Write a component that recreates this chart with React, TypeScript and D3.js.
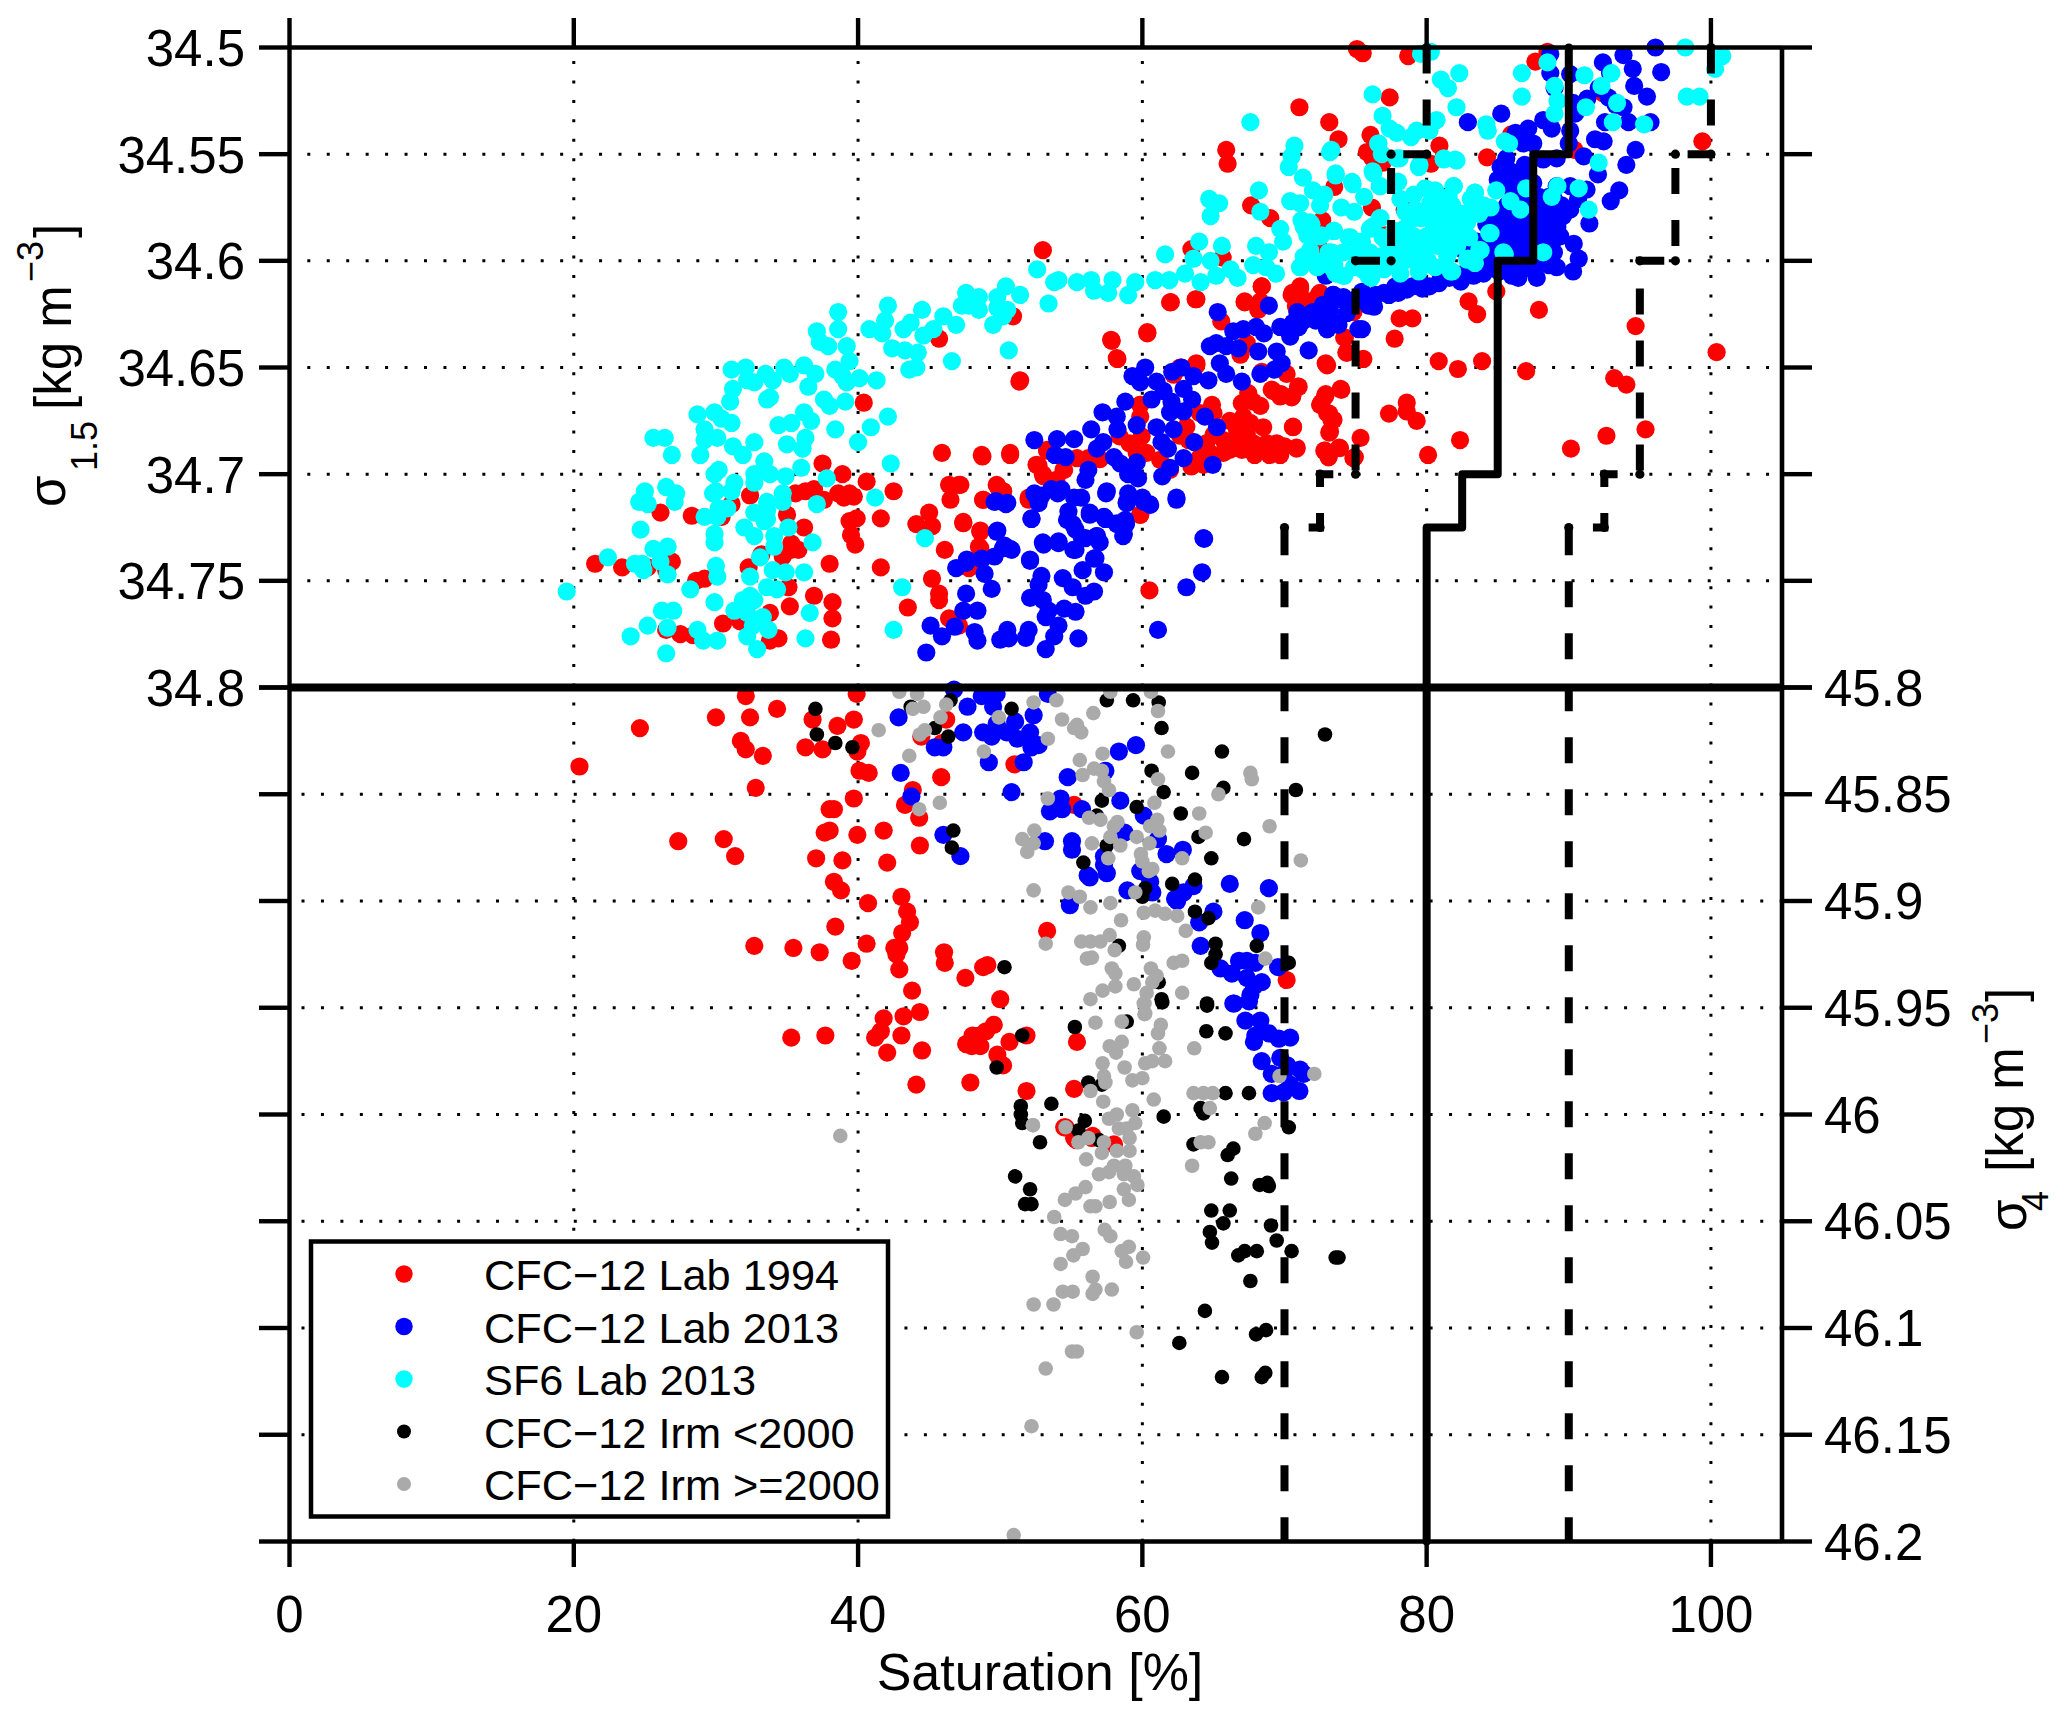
import React from "react";
import * as d3 from "d3";

const cfc1994Upper: number[][] = [[21.5,34.742],[23.4,34.7437],[25.2,34.7437],[26.9,34.741],[26.5,34.745],[26.1,34.718],[28.3,34.7195],[30.4,34.72],[31.1,34.714],[28.6,34.75],[29.2,34.749],[30.5,34.77],[26.5,34.773],[27.5,34.775],[28.4,34.7755],[31.7,34.769],[33.8,34.765],[33.8,34.778],[34.4,34.777],[35.2,34.762],[36.9,34.757],[38.2,34.76],[38.2,34.7676],[38.1,34.7776],[38,34.742],[41.6,34.7437],[32.3,34.7437],[33.2,34.7376],[35.1,34.753],[35.3,34.7325],[34.7,34.7386],[35.8,34.7355],[35.3,34.7355],[36.2,34.725],[35,34.719],[32.4,34.71],[35.6,34.709],[36.3,34.708],[36.9,34.707],[37.6,34.712],[38.6,34.709],[39,34.711],[39.4,34.709],[39.7,34.7105],[37.5,34.695],[38.9,34.7],[40.6,34.7035],[42.5,34.708],[39.4,34.722],[39.9,34.7207],[39.5,34.7285],[39.8,34.733],[41.6,34.7207],[40.4,34.6665],[53,34.595],[50.9,34.626],[45.7,34.6365],[51.4,34.656],[43.5,34.7625],[45.2,34.749],[45.7,34.756],[45.7,34.759],[46.4,34.7676],[47.1,34.771],[47.8,34.744],[45.9,34.69],[48.7,34.691],[50.7,34.69],[46.4,34.705],[47.1,34.705],[46.5,34.712],[49.8,34.7056],[50.2,34.708],[48.8,34.712],[52,34.711],[45,34.718],[44.1,34.7234],[45.2,34.7244],[47.4,34.7224],[48.6,34.7264],[48.5,34.734],[46.1,34.7355],[53.3,34.689],[52.7,34.696],[53,34.7],[54.5,34.698],[61.95,34.6195],[63.8,34.618],[67.2,34.6195],[68.4,34.612],[68.15,34.623],[71.1,34.613],[70.5,34.616],[70.85,34.622],[72.4,34.616],[71.8,34.619],[65.55,34.6284],[60.35,34.634],[57.85,34.6375],[58.25,34.646],[51.35,34.6566],[62.65,34.65],[63.8,34.649],[62.2,34.6534],[66.9,34.644],[67.35,34.6386],[73,34.649],[74.25,34.636],[74.4,34.643],[70.15,34.653],[68.4,34.652],[71,34.659],[69.2,34.661],[69.7,34.6636],[70.5,34.664],[74,34.6605],[72.85,34.6636],[72.5,34.6675],[73,34.6714],[73.45,34.6745],[73.15,34.6805],[70.6,34.678],[72.85,34.689],[73.9,34.6878],[73.1,34.692],[74.85,34.6925],[67.45,34.662],[67,34.6667],[67.8,34.666],[68.3,34.668],[66.15,34.675],[67.1,34.673],[67.6,34.676],[68.5,34.678],[66.65,34.679],[67.35,34.681],[65,34.6816],[65.7,34.684],[66.4,34.6855],[67.1,34.6855],[67.8,34.6855],[68.75,34.6855],[69.45,34.6855],[70,34.687],[70.85,34.688],[64.5,34.6855],[64.75,34.69],[65.7,34.69],[67,34.6886],[67.9,34.691],[68.95,34.691],[69.7,34.691],[64.05,34.692],[64.3,34.6956],[63.45,34.6964],[66.15,34.6886],[64.9,34.6675],[65,34.6714],[64.05,34.6714],[63.1,34.6777],[62.65,34.682],[63.25,34.684],[61.25,34.6933],[61.95,34.698],[59.85,34.6675],[59.85,34.673],[59.95,34.6823],[59.1,34.6855],[58.4,34.6823],[59.6,34.69],[60.3,34.69],[57,34.693],[56.2,34.6925],[55.4,34.6925],[53.3,34.6886],[54.45,34.698],[52.55,34.6956],[53.05,34.701],[53.95,34.7027],[50.7,34.691],[48.75,34.6917],[49.75,34.705],[50.2,34.708],[48.8,34.712],[52,34.712],[47.2,34.705],[47.4,34.723],[48.6,34.727],[48.6,34.7347],[59.85,34.719],[75.1,34.5007],[75.5,34.5027],[78.7,34.504],[87.65,34.5066],[88.5,34.502],[77.4,34.5234],[71.05,34.528],[73.15,34.535],[73.8,34.543],[65.9,34.548],[66,34.5545],[76.05,34.541],[75.8,34.549],[76.7,34.55],[76.2,34.552],[76.9,34.554],[80.9,34.546],[80.3,34.5545],[84.25,34.5515],[85.95,34.5407],[90.4,34.548],[67.65,34.574],[69,34.58],[73.5,34.5654],[76.15,34.575],[72.65,34.581],[78.45,34.576],[80.15,34.58],[72.5,34.5945],[77.1,34.588],[63.45,34.5945],[65.65,34.5985],[92.4,34.5214],[99.4,34.544],[62,34.6194],[63.75,34.618],[67.2,34.619],[68.4,34.612],[68.3,34.619],[70.55,34.615],[71.1,34.612],[70.8,34.621],[72.5,34.615],[71.6,34.619],[84.9,34.6143],[82.95,34.619],[83.55,34.625],[87.9,34.623],[78.1,34.627],[79,34.627],[77.75,34.6365],[74.85,34.624],[74.2,34.636],[74.35,34.643],[75.55,34.646],[72.9,34.648],[94.7,34.6306],[100.4,34.6428],[80.85,34.647],[82.2,34.6507],[83.9,34.647],[87,34.6517],[93.2,34.655],[94.05,34.658],[69.1,34.6604],[69.75,34.6625],[70.55,34.6635],[70.95,34.659],[72.6,34.6665],[72.9,34.6625],[73.95,34.66],[73.15,34.6716],[73.3,34.6746],[73.2,34.68],[78.6,34.6665],[78.6,34.6706],[77.35,34.6716],[79.3,34.675],[75.35,34.683],[73.85,34.6875],[72.8,34.689],[73.1,34.692],[74.95,34.692],[82.35,34.684],[80.1,34.691],[90.15,34.688],[92.65,34.682],[95.4,34.679],[70.6,34.6777],[70.85,34.6875],[69.6,34.6868],[59.85,34.719],[60.5,34.7545],[57.8,34.637],[58.2,34.6456],[60.35,34.6334],[62.75,34.65],[63.8,34.648],[59.85,34.6675]];

const cfc1994Lower: number[][] = [[20.4,45.837],[24.65,45.819],[32.1,45.804],[30,45.814],[32.4,45.814],[34.3,45.81],[31.75,45.825],[32.1,45.829],[33.3,45.832],[32.8,45.847],[36.8,45.815],[38.55,45.818],[39.9,45.803],[39.7,45.815],[36.3,45.828],[37.5,45.829],[40.2,45.826],[39.95,45.83],[40.1,45.839],[40.75,45.84],[39.7,45.852],[38,45.857],[38.3,45.857],[43.85,45.848],[43.3,45.855],[44.3,45.861],[44.35,45.874],[37.65,45.868],[38,45.867],[39.95,45.869],[41.8,45.867],[27.35,45.872],[30.55,45.871],[31.35,45.879],[37.05,45.88],[38.9,45.881],[42.05,45.882],[38.3,45.891],[38.8,45.895],[40.7,45.901],[43.05,45.898],[43.45,45.905],[43.65,45.91],[43.1,45.915],[38.4,45.912],[40.6,45.92],[42.55,45.922],[42.9,45.922],[42.7,45.925],[32.7,45.921],[35.45,45.922],[37.3,45.924],[39.55,45.928],[42.9,45.932],[46.05,45.924],[46.1,45.929],[47.55,45.936],[48.8,45.931],[49.1,45.93],[43.8,45.942],[50,45.946],[44.35,45.952],[41.8,45.955],[43.2,45.954],[41.6,45.961],[41.2,45.964],[43.05,45.963],[35.3,45.964],[37.7,45.963],[42.05,45.971],[44.5,45.97],[47.6,45.967],[48.05,45.963],[48.5,45.963],[49.55,45.958],[49,45.961],[48,45.968],[48.6,45.968],[50.65,45.966],[51.85,45.963],[49.8,45.972],[50.2,45.977],[55.4,45.966],[47.9,45.985],[44.1,45.986],[51.85,45.989],[55.2,45.988],[53.3,45.914],[46.2,45.815],[44.45,45.823],[45.9,45.826],[45.85,45.842],[51,45.836],[55.2,45.855],[54.5,46.006],[55.2,46.011],[56.5,46.01],[54.6,46.006],[55.35,46.012],[56.45,46.011],[58,46.014],[70.15,45.937]];

const cfc2013Upper: number[][] = [[96.1,34.5],[96.5,34.5115],[93.85,34.5036],[94.5,34.51],[92.4,34.507],[94.6,34.518],[95.5,34.523],[92.9,34.512],[92.1,34.519],[92.8,34.5235],[91.3,34.524],[93.3,34.527],[93.85,34.528],[92.55,34.535],[94.2,34.535],[95.75,34.535],[91.85,34.543],[92.45,34.544],[94.7,34.548],[94.05,34.555],[91.05,34.551],[92.05,34.5595],[93.55,34.567],[92.95,34.572],[91.45,34.5825],[90.35,34.592],[90.7,34.599],[90.3,34.605],[88.7,34.503],[88.7,34.512],[89,34.519],[90.1,34.5125],[90.3,34.526],[90.45,34.531],[90.1,34.539],[90,34.545],[88.2,34.534],[88.8,34.538],[85.25,34.531],[82.9,34.535],[86.25,34.54],[87.15,34.538],[86.8,34.545],[87.5,34.545],[88.2,34.5525],[89.15,34.552],[85.2,34.556],[86.4,34.559],[85,34.562],[85.7,34.565],[87.5,34.5635],[89.15,34.565],[90.1,34.565],[91.25,34.5666],[90.65,34.571],[90.1,34.576],[89.6,34.579],[88.95,34.571],[88,34.574],[88.45,34.581],[89.4,34.5885],[86.35,34.581],[86.1,34.585],[85,34.585],[86.8,34.59],[88,34.59],[88.95,34.596],[83.55,34.591],[82.6,34.595],[85.65,34.604],[86.45,34.608],[87.75,34.608],[89.15,34.603],[87.5,34.604],[86.15,34.5995],[87.05,34.596],[82.4,34.6097],[83.3,34.607],[84,34.606],[80.85,34.6105],[79.7,34.613],[78.6,34.6135],[77.35,34.616],[76.4,34.616],[76.3,34.6215],[75.45,34.6145],[74.15,34.617],[73.45,34.616],[73.55,34.629],[73,34.632],[71.8,34.625],[72.5,34.6245],[71.35,34.628],[72.9,34.607],[75.45,34.632],[81.2,34.57],[83.3,34.576],[86.6,34.57],[87.3,34.584],[86.8,34.59],[88.45,34.585],[86.1,34.593],[85.2,34.596],[84.7,34.603],[88.95,34.59],[85.65,34.574],[87,34.576],[73.4,34.616],[74,34.618],[72.7,34.6206],[72,34.624],[71.3,34.627],[70.6,34.629],[69.7,34.631],[70.4,34.6355],[73,34.632],[73.8,34.63],[74.4,34.6245],[68.9,34.621],[65.3,34.624],[68,34.631],[68.55,34.634],[67.1,34.632],[66.4,34.633],[65.2,34.6386],[64.75,34.64],[65.9,34.64],[66.75,34.641],[68.15,34.6425],[69.45,34.6425],[69.8,34.648],[71.7,34.642],[73,34.629],[75.2,34.632],[65.45,34.648],[62.75,34.65],[62.1,34.652],[60.2,34.65],[59.3,34.654],[59.85,34.657],[61,34.6566],[63.6,34.654],[64.65,34.656],[65.9,34.653],[67,34.6566],[68.3,34.653],[69.3,34.651],[62.9,34.66],[63.5,34.665],[60.65,34.665],[61.5,34.661],[62.05,34.666],[62.9,34.6706],[61.95,34.671],[58.8,34.666],[57.2,34.671],[58.2,34.673],[59.6,34.677],[61,34.678],[62.2,34.679],[64.4,34.673],[65.25,34.678],[56.4,34.679],[58.25,34.679],[61.35,34.685],[61.8,34.688],[63.65,34.685],[62.9,34.6925],[61.95,34.697],[61.4,34.701],[64.95,34.6956],[52.4,34.684],[54,34.6836],[55.2,34.6836],[53.85,34.691],[54.6,34.692],[56.8,34.688],[57.25,34.685],[58,34.692],[58.45,34.695],[59.6,34.6945],[59,34.7],[59.7,34.702],[56.2,34.698],[56,34.7027],[55.2,34.711],[54.05,34.709],[53.6,34.707],[52.45,34.7097],[52.8,34.711],[52.7,34.7136],[50.4,34.714],[49.6,34.713],[57.45,34.709],[59,34.709],[58.9,34.7136],[60.1,34.713],[60.55,34.7144],[62.4,34.712],[54.8,34.7175],[54.7,34.7214],[56.3,34.719],[52.2,34.721],[57.4,34.721],[58.2,34.723],[58.8,34.7214],[55.3,34.726],[49.75,34.727],[58.65,34.729],[56.8,34.729],[55.75,34.73],[57,34.732],[53.05,34.733],[54.1,34.7323],[55.15,34.7355],[50.2,34.7347],[50.8,34.7355],[56.7,34.7394],[52.1,34.74],[48.7,34.74],[47.65,34.74],[64.35,34.7303],[49.7,34.7126],[50.5,34.7134],[52.4,34.709],[52.9,34.71],[52.2,34.7207],[54.3,34.707],[49.8,34.7264],[50.3,34.7335],[50.7,34.735],[53,34.732],[54.1,34.7315],[52.1,34.7406],[46.9,34.744],[47.6,34.7416],[48.7,34.7396],[49.6,34.7386],[48.9,34.7467],[49.4,34.7538],[47.6,34.756],[47.4,34.764],[48.4,34.764],[52.9,34.7477],[52.7,34.7518],[54.4,34.7487],[52.1,34.758],[53,34.759],[53.4,34.764],[53.2,34.767],[54.5,34.763],[54.1,34.771],[45.1,34.771],[45.9,34.776],[46.8,34.7715],[48.2,34.774],[48.4,34.778],[50.5,34.773],[50,34.7776],[50.6,34.777],[52,34.773],[51.8,34.7767],[53.8,34.776],[53.2,34.782],[44.8,34.7836],[64.3,34.73],[64.2,34.746],[63.1,34.753],[61.1,34.773],[55.5,34.777],[55.3,34.7645],[56.6,34.755],[56,34.757],[55.1,34.753],[57.3,34.746],[55.8,34.745],[56.6,34.7396],[56,34.73],[56.8,34.729],[55.3,34.7355],[58.85,34.7234],[58.7,34.728],[58.2,34.7234],[57.3,34.72],[56.3,34.718],[55.1,34.7234],[62.4,34.711],[60.5,34.714],[60,34.711],[58.9,34.713],[57.5,34.708],[55.7,34.711],[85.6,34.552],[85.9,34.558],[86.9,34.555],[85.5,34.561],[86.2,34.563],[86.7,34.56],[87,34.572],[87.4,34.575],[87.9,34.57],[88.3,34.575],[88.6,34.57],[89.3,34.575],[88.1,34.578],[87.5,34.58],[86.9,34.58],[87.1,34.585],[86.5,34.587],[87.6,34.589],[88.3,34.587],[87.1,34.591],[86.4,34.594],[87.6,34.595],[88.3,34.594],[85.9,34.59],[85.4,34.591],[84.9,34.592],[84.4,34.595],[85.8,34.598],[84.8,34.6],[84.2,34.6],[83.4,34.604],[82.6,34.606],[85.1,34.605],[86,34.607],[86.8,34.604],[88.1,34.6],[88.6,34.602],[87,34.6],[88.7,34.593],[88.9,34.581],[89.2,34.584],[89.5,34.574],[88,34.585],[85.6,34.581],[85,34.578],[84.7,34.581],[84.2,34.583],[81,34.607],[80.2,34.612],[79,34.612],[78,34.615],[77,34.615],[76,34.618],[75,34.618],[74.5,34.621],[75.9,34.621],[77.8,34.612],[79.5,34.61],[81.6,34.608],[73.2,34.623],[72.2,34.628],[71,34.631],[70.9,34.624]];

const cfc2013Lower: number[][] = [[46.75,45.801],[42.85,45.814],[47.7,45.809],[48.7,45.804],[49.75,45.803],[49.5,45.809],[52.35,45.813],[53.35,45.803],[47.4,45.821],[48.8,45.821],[49.4,45.823],[49.75,45.817],[50.45,45.821],[51.05,45.816],[51.2,45.824],[52.1,45.821],[52.2,45.828],[52.7,45.827],[45.4,45.828],[46,45.828],[49.2,45.835],[51.65,45.835],[43,45.84],[43.75,45.851],[50.8,45.849],[54.75,45.842],[57.4,45.839],[58.35,45.83],[59.55,45.827],[54.25,45.852],[53.5,45.858],[54.35,45.857],[55.75,45.857],[58.45,45.853],[60.1,45.86],[46,45.869],[53.15,45.872],[55.05,45.872],[55.05,45.876],[58.75,45.868],[61.1,45.871],[61.7,45.878],[62.85,45.876],[47.2,45.879],[57.3,45.879],[57.3,45.883],[57.5,45.887],[56.15,45.888],[59.85,45.886],[60.55,45.891],[58.95,45.895],[60.7,45.896],[66.15,45.892],[68.9,45.894],[63.6,45.893],[62.9,45.896],[62.3,45.899],[62.45,45.9],[54.9,45.902],[64,45.91],[65,45.905],[67.2,45.909],[68.3,45.915],[64.1,45.921],[66.8,45.928],[67.35,45.928],[67.95,45.929],[65.5,45.9316],[66.3,45.934],[67.35,45.936],[68.4,45.938],[67.85,45.94],[67.6,45.944],[66.45,45.948],[69.55,45.931],[66.4,45.948],[67.5,45.947],[67.25,45.956],[68.3,45.956],[68.9,45.962],[67.85,45.966],[69.6,45.9645],[70.4,45.964],[68.4,45.975],[69.7,45.9735],[71.1,45.979],[69.1,45.981],[71.35,45.981],[70.2,45.977],[69.1,45.99],[69.95,45.9896],[71.05,45.989],[70.4,45.986],[67.95,45.963],[69.95,45.981],[56.3,45.889]];

const sf6Upper: number[][] = [[19.5,34.755],[22.4,34.739],[24,34.776],[25.2,34.771],[24.7,34.726],[24.3,34.742],[24.8,34.742],[24.9,34.745],[25.6,34.735],[26.6,34.734],[26.1,34.741],[26.6,34.747],[26.2,34.764],[27,34.764],[26.6,34.772],[26.5,34.784],[28.7,34.773],[29.1,34.778],[30.1,34.778],[28.2,34.754],[29.9,34.76],[30.1,34.748],[30,34.743],[29.9,34.732],[29.9,34.728],[29.2,34.72],[30.1,34.72],[30.2,34.716],[30.8,34.716],[29.8,34.709],[30,34.708],[31.1,34.708],[31.3,34.704],[29.9,34.7],[30.2,34.698],[32.7,34.7],[32.7,34.704],[33.4,34.694],[33.8,34.7],[34.9,34.701],[36,34.697],[37.8,34.702],[42.3,34.695],[34.7,34.709],[34.7,34.713],[37.1,34.714],[41.2,34.711],[33.6,34.713],[32.7,34.718],[33.6,34.721],[33.6,34.717],[32,34.725],[32.7,34.729],[33.4,34.722],[34.1,34.729],[34.1,34.734],[35.1,34.725],[36.8,34.732],[33.1,34.739],[34,34.745],[34.9,34.746],[36.2,34.746],[33.6,34.753],[34.3,34.754],[32.4,34.748],[32.4,34.757],[31.9,34.759],[32.7,34.759],[31.3,34.764],[32.2,34.765],[33.3,34.767],[32.6,34.771],[33.7,34.773],[32.2,34.776],[32.9,34.782],[36.6,34.765],[36.3,34.777],[42.5,34.773],[43.1,34.753],[44.7,34.73],[25,34.708],[24.6,34.713],[25.2,34.714],[26.5,34.706],[27.2,34.709],[27.1,34.713],[31.1,34.651],[32.1,34.65],[32.2,34.656],[32.7,34.657],[33.5,34.653],[34,34.656],[34.8,34.65],[35.2,34.653],[36.2,34.649],[37,34.653],[36.5,34.659],[31.2,34.66],[31,34.666],[33.8,34.664],[33.6,34.665],[28.7,34.672],[29.9,34.671],[30.4,34.674],[31.1,34.676],[29.2,34.679],[30.1,34.683],[29.2,34.684],[25.6,34.683],[26.4,34.683],[26.9,34.691],[28.9,34.691],[31.2,34.687],[31.9,34.691],[32.7,34.685],[34.4,34.677],[35.3,34.676],[35,34.686],[36.2,34.671],[36.7,34.675],[36.3,34.683],[36.1,34.688],[37.6,34.665],[38,34.668],[39.1,34.666],[38.4,34.679],[40,34.685],[40.9,34.678],[42.1,34.673],[38.4,34.651],[38.9,34.654],[39.2,34.657],[40.1,34.655],[41.3,34.656],[39.4,34.647],[37.1,34.633],[38.6,34.632],[37.3,34.638],[37.9,34.64],[39.2,34.64],[38.6,34.624],[40.8,34.632],[41.7,34.634],[41.9,34.628],[42.1,34.621],[43.2,34.632],[43.7,34.629],[42.4,34.641],[43.3,34.642],[44.2,34.643],[44.1,34.65],[43.6,34.651],[44.5,34.623],[44.6,34.635],[45.3,34.632],[46,34.626],[46.9,34.63],[46.6,34.647],[47.3,34.621],[47.6,34.615],[48.5,34.617],[48.5,34.623],[47.8,34.621],[49.5,34.63],[49.8,34.617],[50.4,34.612],[50.5,34.623],[51.4,34.616],[50.2,34.626],[49.8,34.622],[50.6,34.642],[52.6,34.604],[53.8,34.61],[54.1,34.609],[53.4,34.62],[55.4,34.61],[56.4,34.609],[56.6,34.614],[57.6,34.615],[57.9,34.609],[59,34.616],[59.5,34.61],[60.9,34.609],[61.9,34.609],[61.6,34.597],[63,34.606],[63.6,34.599],[64,34.591],[64.1,34.61],[64.8,34.6],[65.6,34.593],[65.2,34.607],[66.2,34.604],[66.7,34.608],[64.7,34.571],[65.4,34.573],[64.8,34.579],[67.6,34.535],[68.2,34.567],[68.3,34.577],[68,34.593],[67.8,34.602],[68.9,34.596],[68.7,34.603],[69.4,34.606],[70.7,34.546],[70.5,34.551],[70.3,34.556],[73.3,34.548],[73.6,34.559],[71.3,34.561],[72,34.567],[72.8,34.569],[72.5,34.574],[70.4,34.572],[71.1,34.573],[69.7,34.585],[69.9,34.591],[71.2,34.581],[71.9,34.583],[71.6,34.588],[72.6,34.588],[73.5,34.586],[71.8,34.595],[71.1,34.603],[72.3,34.603],[73.3,34.596],[73.5,34.602],[74.2,34.607],[75.2,34.596],[76.1,34.608],[76.7,34.601],[74.8,34.564],[75.6,34.57],[74,34.575],[74.9,34.577],[76.7,34.58],[76.2,34.584],[74.5,34.589],[75.3,34.592],[76,34.596],[76.2,34.522],[76.9,34.532],[77.4,34.538],[77.9,34.54],[76.6,34.545],[76.2,34.558],[76.7,34.565],[77.9,34.563],[78.9,34.542],[79.3,34.539],[80.2,34.539],[78.1,34.552],[79.5,34.555],[80.7,34.534],[81,34.515],[81.5,34.519],[82.3,34.512],[82.1,34.528],[79.6,34.503],[80.3,34.502],[81.2,34.552],[82.1,34.553],[84.2,34.536],[84.3,34.539],[85.5,34.544],[85.8,34.545],[86.7,34.512],[86.7,34.523],[88.5,34.507],[89,34.518],[89.2,34.525],[89,34.531],[91.1,34.513],[92.3,34.518],[93,34.512],[93.4,34.526],[91.2,34.528],[93.1,34.535],[95.3,34.536],[98.2,34.5],[100.8,34.504],[100.3,34.51],[98.3,34.523],[99.2,34.523],[92.1,34.554],[91.4,34.576],[90.7,34.566],[89.2,34.565],[88.8,34.57],[87,34.566],[84.9,34.567],[85.9,34.572],[86.6,34.576],[84.4,34.587],[81.9,34.565],[83.4,34.568],[83.1,34.571],[84.2,34.575],[83.7,34.578],[81.5,34.592],[81.7,34.605],[82.9,34.599],[83.7,34.595],[85.4,34.596],[88.2,34.596],[73.45,34.586],[74.65,34.589],[75.45,34.591],[76,34.585],[76.75,34.58],[71.35,34.584],[71.8,34.582],[71.8,34.5885],[72.5,34.5885],[73.1,34.596],[71.8,34.596],[72.5,34.602],[73.45,34.5995],[74.15,34.607],[73.45,34.604],[75.1,34.598],[75.9,34.607],[75.45,34.604],[76.75,34.598],[77.45,34.593],[78.15,34.571],[79.1,34.569],[79.2,34.576],[78.85,34.581],[80.25,34.573],[80.75,34.573],[81.45,34.581],[81.9,34.565],[81.55,34.57],[81.2,34.577],[80.5,34.584],[79.1,34.5885],[80,34.5885],[80.95,34.585],[81.65,34.59],[82.85,34.582],[83.55,34.576],[83.4,34.568],[84,34.574],[84.5,34.575],[81.65,34.595],[81.45,34.598],[78.15,34.606],[79.45,34.605],[80.6,34.603],[81.8,34.605],[79.3,34.596],[78.15,34.596],[77,34.604],[82.85,34.5995],[83.4,34.601],[83.8,34.595],[84.5,34.587],[85.5,34.597],[73.6,34.56],[74.75,34.563],[76.25,34.559],[76.75,34.565],[78,34.563],[76.85,34.55],[79.45,34.556],[77.9,34.552],[81.2,34.5525],[82,34.5525],[76.6,34.545],[73.2,34.549],[71.1,34.603],[71.35,34.598],[72.05,34.5995],[74.15,34.596],[78.85,34.591],[80,34.594],[80.75,34.593],[82.15,34.593],[78.6,34.5995],[76.9,34.589],[77.7,34.586],[78.4,34.585],[79.6,34.58],[80.3,34.578],[80.1,34.6],[79.5,34.6],[77.6,34.599],[76.3,34.604],[74.9,34.603],[73.6,34.606],[77.2,34.591],[78.5,34.577],[79.9,34.566],[80.6,34.567],[81.8,34.574],[82.5,34.578],[82.2,34.585],[83,34.589],[81.1,34.59],[78.4,34.592]];

const irmBefore2000: number[][] = [[46.5,45.806],[43.7,45.809],[50.8,45.81],[45.4,45.819],[46.35,45.823],[57.5,45.806],[59.35,45.806],[61.15,45.807],[61.35,45.819],[65.6,45.83],[60.65,45.839],[63.5,45.84],[61.5,45.849],[65.7,45.847],[70.8,45.848],[72.85,45.822],[57.15,45.853],[59.6,45.856],[62.7,45.859],[56.8,45.86],[46.7,45.867],[46.6,45.875],[63.95,45.87],[67.15,45.871],[57.5,45.874],[64.85,45.88],[55.85,45.882],[63.7,45.89],[62.1,45.892],[60.2,45.894],[60,45.898],[63.7,45.905],[64.65,45.908],[58.35,45.921],[68.05,45.921],[65.15,45.92],[65.15,45.925],[64.85,45.929],[70.3,45.929],[50.3,45.931],[61.15,45.938],[61.35,45.946],[64.55,45.948],[37,45.81],[37.1,45.822],[38.4,45.826],[39.6,45.828],[51.55,45.963],[49.75,45.978],[55.25,45.959],[61.4,45.9475],[64.55,45.949],[58.9,45.9565],[64.5,45.961],[65.85,45.962],[51.45,45.996],[53.6,45.995],[51.45,46],[51.55,46.004],[56.2,45.985],[57.15,45.986],[52.8,46.013],[55.95,46.003],[55.5,46.0075],[56.95,46.012],[61.5,46.001],[64.1,45.997],[64.3,45.9995],[65.85,45.99],[67.5,45.99],[70.3,46.006],[66.4,46.016],[66,46.019],[63.6,46.014],[66.25,46.03],[51.05,46.029],[52.1,46.035],[51.75,46.042],[52.2,46.042],[68.25,46.033],[68.8,46.032],[68.9,46.0335],[64.85,46.045],[66.15,46.045],[69.05,46.052],[65.7,46.051],[64.75,46.055],[64.9,46.06],[69.45,46.059],[66.75,46.066],[67.2,46.064],[68.05,46.064],[70.5,46.064],[73.6,46.067],[73.8,46.067],[67.6,46.078],[64.4,46.092],[68,46.103],[68.7,46.101],[62.6,46.107],[65.6,46.123],[68.4,46.123],[68.65,46.121]];

const irmAfter2000: number[][] = [[42.9,45.802],[44.15,45.803],[43.85,45.81],[44.6,45.809],[46.2,45.808],[45.8,45.814],[41.45,45.82],[44.7,45.82],[44.35,45.822],[43.6,45.832],[49.9,45.814],[48.85,45.83],[45.75,45.854],[44.3,45.857],[52.35,45.807],[53.95,45.806],[54.35,45.815],[53.35,45.824],[56.55,45.812],[55.2,45.819],[55.4,45.8175],[55.7,45.821],[57.75,45.802],[60.6,45.802],[61.1,45.811],[61.8,45.83],[57.2,45.831],[55.6,45.834],[56.6,45.838],[55.8,45.841],[57.15,45.839],[57.3,45.844],[57.65,45.848],[61.1,45.843],[53.35,45.852],[60.85,45.854],[56.25,45.861],[57.05,45.862],[58.25,45.863],[58,45.865],[61.05,45.862],[60.55,45.865],[61.2,45.867],[59.6,45.87],[57.75,45.87],[60.5,45.873],[58.45,45.874],[59.9,45.878],[60,45.8815],[57.6,45.88],[60.7,45.885],[60.45,45.886],[56.45,45.873],[52.4,45.867],[51.55,45.871],[52.35,45.873],[51.9,45.877],[64,45.859],[64.45,45.868],[65.35,45.85],[67.6,45.84],[67.7,45.843],[68.95,45.865],[71.15,45.881],[62.8,45.88],[52.35,45.895],[54.8,45.896],[55.6,45.898],[56.35,45.903],[57.75,45.901],[59.5,45.896],[60.1,45.9055],[60.9,45.9045],[61.6,45.906],[62.45,45.907],[58.5,45.909],[68.15,45.903],[63.05,45.914],[53.2,45.92],[55.7,45.919],[56.35,45.919],[57.05,45.919],[57.7,45.916],[58.05,45.923],[60.05,45.9205],[60.1,45.917],[56.1,45.927],[56.45,45.9265],[62.2,45.929],[62.8,45.928],[68.65,45.927],[57.85,45.9316],[58.1,45.934],[60.6,45.9316],[61,45.935],[60.7,45.938],[59.4,45.939],[58.1,45.94],[57.2,45.942],[56.35,45.946],[62.8,45.943],[60.3,45.943],[60.1,45.948],[60.2,45.9527],[38.75,46.01],[52.3,46.005],[56.7,45.957],[58.55,45.9565],[60.15,45.948],[60.15,45.953],[61.3,45.958],[61.1,45.962],[63.65,45.969],[57.7,45.968],[58.15,45.971],[58.55,45.966],[61.2,45.969],[60.2,45.976],[60.7,45.975],[61.6,45.975],[57.2,45.976],[58.75,45.978],[59.3,45.984],[60,45.983],[57.3,45.982],[57.4,45.985],[56.35,45.989],[57.25,45.994],[60.8,45.993],[63.6,45.99],[64.3,45.99],[64.95,45.99],[64.75,45.997],[52.3,46.005],[54.6,46.006],[58.2,46],[57.65,46.002],[59.3,45.998],[59.5,46.004],[58.35,46.0066],[58.9,46.0066],[59.1,46.011],[55.5,46.013],[56.2,46.011],[57.3,46.013],[59.1,46.017],[58.2,46.017],[57.15,46.018],[56.05,46.021],[64.1,46.013],[64.65,46.013],[63.5,46.024],[68.6,46.004],[67.95,46.009],[69.65,45.982],[72.1,45.981],[58.8,46.024],[58,46.024],[56.95,46.028],[57.65,46.027],[58.7,46.028],[59.4,46.029],[59.65,46.033],[58.7,46.035],[59.05,46.04],[56,46.034],[55.3,46.037],[54.55,46.04],[57.7,46.041],[56.35,46.043],[56.7,46.043],[53.8,46.048],[57.35,46.054],[57.75,46.057],[54.25,46.056],[55.05,46.057],[55.8,46.063],[55.15,46.066],[54.25,46.07],[58.55,46.064],[59.05,46.062],[58.85,46.069],[60.05,46.067],[56.5,46.076],[56.7,46.082],[56.5,46.084],[57.85,46.082],[54.4,46.083],[55.1,46.083],[52.35,46.089],[53.75,46.089],[59.6,46.102],[55.05,46.111],[55.4,46.111],[53.2,46.119],[52.2,46.146],[50.95,46.197]];

const stepSat = [90, 90, 87.5, 87.5, 85, 85, 82.5, 82.5, 80];
const stepSigma15 = [34.5, 34.55, 34.55, 34.6, 34.6, 34.7, 34.7, 34.725, 34.725];
const stepBottomSigma4 = 46.2;
const dashedOffsets = [-10, 10];

const satTicks = [0, 20, 40, 60, 80, 100];
const sigma15Ticks = [34.5, 34.55, 34.6, 34.65, 34.7, 34.75, 34.8];
const sigma4Ticks = [45.8, 45.85, 45.9, 45.95, 46, 46.05, 46.1, 46.15, 46.2];
const legendLabels = ["CFC\u221212 Lab 1994", "CFC\u221212 Lab 2013", "SF6 Lab 2013", "CFC\u221212 Irm <2000", "CFC\u221212 Irm >=2000"];
const legendColors = ["#ff0000", "#0000ff", "#00ffff", "#000000", "#aaaaaa"];
const legendRadii = [8.7, 8.7, 8.7, 7, 7];

const W = 2067, H = 1718;
const FONT = '"Liberation Sans", Arial, Helvetica, sans-serif';
const x = d3.scaleLinear().domain([0, 105]).range([289.5, 1782]);
const yU = d3.scaleLinear().domain([34.5, 34.8]).range([47.5, 687.5]);
const yL = d3.scaleLinear().domain([45.8, 46.2]).range([687.5, 1541.5]);
const left = x(0), right = x(105), top = yU(34.5), mid = yU(34.8), bottom = yL(46.2);

const pathGen = d3.line<number[]>().x(d => d[0]).y(d => d[1]);
const stepPoints = (off: number): number[][] => [
  ...stepSat.map((s, i) => [x(s + off), yU(stepSigma15[i])]),
  [x(stepSat[stepSat.length - 1] + off), yL(stepBottomSigma4)],
];

const Dots = ({ data, y, r, fill }: { data: number[][]; y: (v: number) => number; r: number; fill: string }) => (
  <g fill={fill}>
    {data.map((d, i) => <circle key={i} cx={x(d[0])} cy={y(d[1])} r={r} />)}
  </g>
);

const GRID_DASH = "3 16.45";
const R_LAB = 9.1;
const R_IRM = 7.3;

export default function App() {
  return (
    <svg width={W} height={H} viewBox={`0 0 ${W} ${H}`} style={{ position: "absolute", left: 0, top: 0, background: "#fff" }} fontFamily={FONT} fill="#000">
      {/* grid */}
      <g stroke="#000" strokeWidth={3} fill="none" strokeDasharray={GRID_DASH}>
        {satTicks.slice(1).map(t => <line key={"vu" + t} x1={x(t)} x2={x(t)} y1={61} y2={mid} />)}
        {satTicks.slice(1).map(t => <line key={"vl" + t} x1={x(t)} x2={x(t)} y1={702.5} y2={bottom} />)}
        {sigma15Ticks.slice(1, 6).map(t => <line key={"hu" + t} x1={307.3} x2={right} y1={yU(t)} y2={yU(t)} />)}
        {sigma4Ticks.slice(1, 8).map(t => <line key={"hl" + t} x1={301.5} x2={right} y1={yL(t)} y2={yL(t)} />)}
      </g>

      {/* data */}
      <Dots data={cfc1994Upper} y={yU} r={R_LAB} fill="#ff0000" />
      <Dots data={cfc1994Lower} y={yL} r={R_LAB} fill="#ff0000" />
      <Dots data={cfc2013Upper} y={yU} r={R_LAB} fill="#0000ff" />
      <Dots data={cfc2013Lower} y={yL} r={R_LAB} fill="#0000ff" />
      <Dots data={sf6Upper} y={yU} r={R_LAB} fill="#00ffff" />
      <Dots data={irmBefore2000} y={yL} r={R_IRM} fill="#000000" />
      <Dots data={irmAfter2000} y={yL} r={R_IRM} fill="#aaaaaa" />

      {/* reference profiles */}
      <path d={pathGen(stepPoints(0)) || ""} fill="none" stroke="#000" strokeWidth={8} strokeLinejoin="round" strokeLinecap="round" />
      {dashedOffsets.map(off => (
        <g key={off}>
          <path d={pathGen(stepPoints(off)) || ""} fill="none" stroke="#000" strokeWidth={8} strokeDasharray="26 26" />
          {stepPoints(off).slice(0, -1).map((p, i) => <circle key={i} cx={p[0]} cy={p[1]} r={4.6} fill="#000" />)}
        </g>
      ))}

      {/* frame */}
      <g stroke="#000" strokeWidth={4.4} fill="none">
        <line x1={left} x2={left} y1={18} y2={1567} />
        <line x1={right} x2={right} y1={top} y2={bottom} strokeWidth={4.6} />
        <line x1={left} x2={right} y1={mid} y2={mid} strokeWidth={8} />
        {sigma15Ticks.map(t => <g key={"tu" + t}>
          <line x1={259} x2={left} y1={yU(t)} y2={yU(t)} />
          <line x1={right} x2={1812} y1={yU(t)} y2={yU(t)} />
        </g>)}
        {sigma4Ticks.map(t => <g key={"tl" + t}>
          <line x1={259} x2={left} y1={yL(t)} y2={yL(t)} />
          <line x1={right} x2={1812} y1={yL(t)} y2={yL(t)} />
        </g>)}
        <line x1={left} x2={right} y1={top} y2={top} strokeWidth={4.6} />
        <line x1={left} x2={right} y1={bottom} y2={bottom} strokeWidth={4.6} />
        {satTicks.slice(1).map(t => <g key={"tx" + t}>
          <line x1={x(t)} x2={x(t)} y1={18} y2={top} />
          <line x1={x(t)} x2={x(t)} y1={bottom} y2={1567} />
        </g>)}
      </g>

      {/* tick labels */}
      <g fontSize={51} textAnchor="end">
        {sigma15Ticks.map(t => <text key={t} x={245} y={yU(t) + 18.5}>{d3.format("")(t)}</text>)}
      </g>
      <g fontSize={51}>
        {sigma4Ticks.map(t => <text key={t} x={1824} y={yL(t) + 18}>{d3.format("")(t)}</text>)}
      </g>
      <g fontSize={51} textAnchor="middle">
        {satTicks.map(t => <text key={t} x={x(t)} y={1632}>{t}</text>)}
      </g>
      <text x={1040} y={1690} fontSize={52} textAnchor="middle">Saturation [%]</text>

      {/* y labels */}
      <g transform="translate(71,507) rotate(-90)" fontSize={51}>
        <text x={0} y={-6}>σ</text>
        <text x={36} y={26} fontSize={36}>1.5</text>
        <text x={97} y={0}>[kg m</text>
        <text x={225} y={-28} fontSize={36}>{"\u22123"}</text>
        <text x={269} y={0}>]</text>
      </g>
      <g transform="translate(2023,1231) rotate(-90)" fontSize={51}>
        <text x={0} y={3}>σ</text>
        <text x={20} y={25} fontSize={36}>4</text>
        <text x={59} y={0}>[kg m</text>
        <text x={187} y={-25} fontSize={36}>{"\u22123"}</text>
        <text x={229} y={0}>]</text>
      </g>

      {/* legend */}
      <rect x={311} y={1241.5} width={577} height={275} fill="#fff" stroke="#000" strokeWidth={4.5} />
      {legendLabels.map((l, i) => (
        <g key={l}>
          <circle cx={404} cy={1274 + i * 52.5} r={legendRadii[i]} fill={legendColors[i]} />
          <text x={484} y={1290 + i * 52.5} fontSize={43.3}>{l}</text>
        </g>
      ))}
    </svg>
  );
}
